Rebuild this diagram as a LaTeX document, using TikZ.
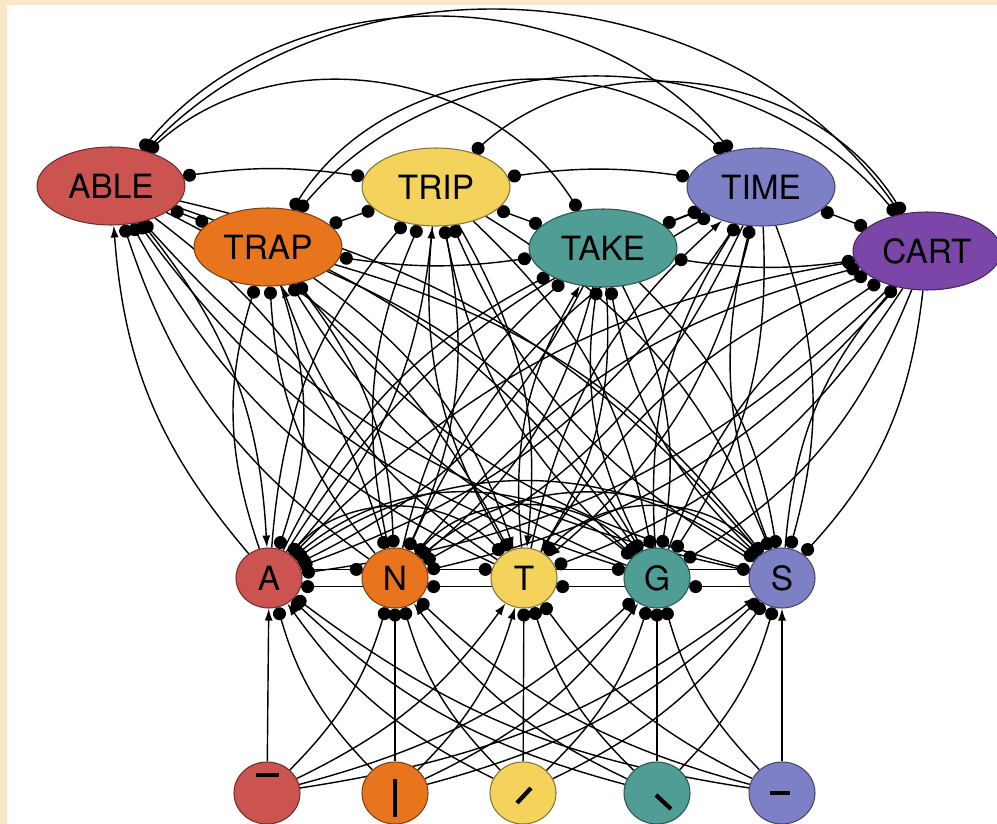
\documentclass[tikz,border=0pt]{standalone}
\usepackage{fontspec}
\setmainfont{TeX Gyre Heros}
\usetikzlibrary{arrows.meta,shapes.geometric,backgrounds}

\definecolor{unitRed}{HTML}{CB5450}
\definecolor{unitOrange}{HTML}{E8741E}
\definecolor{unitYellow}{HTML}{F3D35C}
\definecolor{unitTeal}{HTML}{4F9D95}
\definecolor{unitBlue}{HTML}{7E80C6}
\definecolor{unitPurple}{HTML}{7B46A7}
\definecolor{pageEdge}{HTML}{F8E8C8}

\tikzset{
  unit/.style={ellipse, draw=#1!55!black, fill=#1, line width=0.6pt, inner sep=0pt,
    font=\fontsize{19}{19}\selectfont},
  wordunit/.style={unit=#1, minimum width=2.96cm, minimum height=1.56cm},
  letterunit/.style={unit=#1, minimum width=1.32cm, minimum height=1.2cm},
  featunit/.style={unit=#1, minimum width=1.32cm, minimum height=1.24cm},
  link/.style={line width=0.8pt},
  exc/.style={link, -{Latex[length=2.4mm,width=1.6mm]}},
  inh/.style={link, -{Circle[length=2.6mm]}},
  inhboth/.style={link, {Circle[length=2.6mm]}-{Circle[length=2.6mm]}},
  featbar/.style={line width=2.4pt}
}

\begin{document}
\begin{tikzpicture}[x=0.02cm, y=0.02cm]
\useasboundingbox (0,0) rectangle (997,-824);
%% word level
\node[wordunit=unitRed]    (ABLE) at (111,-186) {ABLE};
\node[wordunit=unitOrange] (TRAP) at (268,-247) {TRAP};
\node[wordunit=unitYellow] (TRIP) at (436,-187) {TRIP};
\node[wordunit=unitTeal]   (TAKE) at (603,-248) {TAKE};
\node[wordunit=unitBlue]   (TIME) at (761,-187) {TIME};
\node[wordunit=unitPurple] (CART) at (927,-251) {CART};
%% letter level
\node[letterunit=unitRed]    (A) at (269,-578) {A};
\node[letterunit=unitOrange] (N) at (395,-578) {N};
\node[letterunit=unitYellow] (T) at (524,-578) {T};
\node[letterunit=unitTeal]   (G) at (657,-578) {G};
\node[letterunit=unitBlue]   (S) at (782,-578) {S};
%% feature level
\node[featunit=unitRed]    (fHigh)  at (267,-793) {};
\node[featunit=unitOrange] (fVert)  at (395,-793) {};
\node[featunit=unitYellow] (fSlash) at (523,-793) {};
\node[featunit=unitTeal]   (fBack)  at (657,-793) {};
\node[featunit=unitBlue]   (fMid)   at (782,-793) {};
\draw[featbar] ([shift={(-11,18)}]fHigh.center) -- ([shift={(12,18)}]fHigh.center);
\draw[featbar] ([shift={(0,14)}]fVert.center) -- ([shift={(0,-24)}]fVert.center);
\draw[featbar] ([shift={(-6,-10)}]fSlash.center) -- ([shift={(8,5)}]fSlash.center);
\draw[featbar] ([shift={(-1,-2)}]fBack.center) -- ([shift={(14,-16)}]fBack.center);
\draw[featbar] ([shift={(-12,0)}]fMid.center) -- ([shift={(8,0)}]fMid.center);

\begin{scope}[on background layer]
  \fill[pageEdge] (0,0) rectangle (997,-824);
  \fill[white] (7,-5) rectangle (997,-824);
  %% word to word
  \foreach \u/\v/\b in {ABLE/TRAP/0, ABLE/TRIP/8, ABLE/TAKE/50, ABLE/TIME/50, ABLE/CART/50,
      TRAP/TRIP/0, TRAP/TAKE/-8, TRAP/TIME/50, TRAP/CART/50, TRIP/TAKE/0,
      TRIP/TIME/8, TRIP/CART/50, TAKE/TIME/0, TAKE/CART/-8, TIME/CART/0}
    \draw[inhboth] (\u) to[bend left=\b] (\v);
  %% letter to word and back
  \foreach \l/\w in {A/ABLE, T/TRAP, T/TRIP, T/TAKE, T/TIME} {
    \draw[exc] (\l) to[bend left=18] (\w);
    \draw[exc] (\w) to[bend left=18] (\l);
  }
  \foreach \l/\w in {A/TRAP, A/TRIP, A/TAKE, A/TIME, A/CART,
      N/ABLE, N/TRAP, N/TRIP, N/TAKE, N/TIME, N/CART, T/ABLE, T/CART,
      G/ABLE, G/TRAP, G/TRIP, G/TAKE, G/TIME, G/CART,
      S/ABLE, S/TRAP, S/TRIP, S/TAKE, S/TIME, S/CART} {
    \draw[inh] (\l) to[bend left=18] (\w);
    \draw[inh] (\w) to[bend left=18] (\l);
  }
  %% letter to letter
  \foreach \u/\v in {A/N, N/T, T/G, G/S} {
    \draw[inh] (\u.15) -- (\v.165);
    \draw[inh] (\v.195) -- (\u.-15);
  }
  \foreach \u/\v/\b in {A/T/48, A/G/40, A/S/35, N/G/48, N/S/40, T/S/48}
    \draw[inhboth] (\u) to[bend left=\b] (\v);
  %% feature to letter
  \foreach \f/\l/\b in {fHigh/A/0, fHigh/T/-14, fHigh/S/-14, fVert/T/-14, fVert/G/-14,
      fSlash/A/14, fBack/N/14, fMid/S/0}
    \draw[exc] (\f) to[bend left=\b] (\l);
  \foreach \f/\l/\b in {fHigh/N/-14, fHigh/G/-14, fVert/A/14, fVert/N/0, fVert/S/-14,
      fSlash/N/14, fSlash/T/0, fSlash/G/-14, fSlash/S/-14,
      fBack/A/14, fBack/T/14, fBack/G/0, fBack/S/-14,
      fMid/A/14, fMid/N/14, fMid/T/14, fMid/G/14}
    \draw[inh] (\f) to[bend left=\b] (\l);
\end{scope}
\end{tikzpicture}
\end{document}
